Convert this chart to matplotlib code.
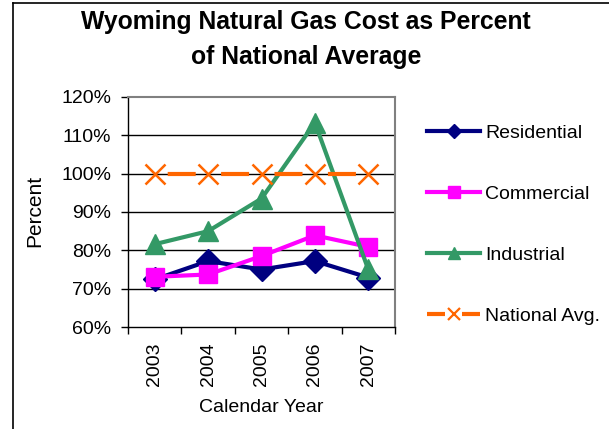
import matplotlib
matplotlib.use("Agg")
import matplotlib.pyplot as plt
from matplotlib.lines import Line2D
import numpy as np

plt.rcParams['font.family'] = ['Liberation Sans', 'DejaVu Sans']
plt.rcParams['lines.scale_dashes'] = False

years = ["2003", "2004", "2005", "2006", "2007"]
residential = [72.4, 77.2, 75.0, 77.2, 72.9]
commercial = [73.1, 73.7, 78.5, 83.9, 80.9]
industrial = [81.6, 85.0, 93.5, 113.3, 75.0]
national = [100, 100, 100, 100, 100]
yticks = [60, 70, 80, 90, 100, 110, 120]

W, H = 609, 429
fig = plt.figure(figsize=(W / 100, H / 100), dpi=100)
px2pt = 72 / 100

# outer frame lines (left and top)
fig.add_artist(Line2D([12.5 / W, 12.5 / W], [0, 1 - 3 / H], color='black', lw=1.2, transform=fig.transFigure))
fig.add_artist(Line2D([12.5 / W, 1], [1 - 3 / H, 1 - 3 / H], color='black', lw=1.2, transform=fig.transFigure))

left, right, top, bottom = 128, 395, 97, 327
ax = fig.add_axes([left / W, 1 - bottom / H, (right - left) / W, (bottom - top) / H])

x = np.arange(len(years))
ax.set_xlim(-0.5, len(years) - 0.5)
ax.set_ylim(60, 120)

for yv in yticks[1:-1]:
    ax.axhline(yv, color='black', lw=1, zorder=1)

ax.plot(x, residential, color='#000080', lw=3, marker='D', ms=12, label='Residential', zorder=3)
ax.plot(x, commercial, color='#FF00FF', lw=3, marker='s', ms=13.5, label='Commercial', zorder=3)
ax.plot(x, industrial, color='#339966', lw=3, marker='^', ms=14.5, label='Industrial', zorder=3)

period = (right - left) / 5
on = 28
off = period - on
ax.plot(x, national, color='#FF6600', lw=3, marker='x', ms=14, mew=1.8,
        linestyle=((on + off / 2) * px2pt, (on * px2pt, off * px2pt)),
        label='National Avg.', zorder=4)

fs = 14
ax.set_yticks(yticks)
ax.set_yticklabels([f"{v}%" for v in yticks], fontsize=fs)
ax.set_xticks(x)
ax.set_xticklabels(years, rotation=90, fontsize=fs)
ax.tick_params(axis='x', which='major', length=0, pad=11)
ax.set_xticks(np.arange(-0.5, len(years)), minor=True)
ax.tick_params(axis='x', which='minor', length=5, direction='out', width=1)
ax.tick_params(axis='y', length=5, direction='out', width=1, pad=7)

for s in ['left', 'bottom']:
    ax.spines[s].set_color('black')
    ax.spines[s].set_linewidth(1)
for s in ['top', 'right']:
    ax.spines[s].set_color('#808080')
    ax.spines[s].set_linewidth(1.5)

fig.text(35 / W, 1 - 211 / H, "Percent", rotation=90, fontsize=15, ha='center', va='center')
fig.text(261 / W, 1 - 408 / H, "Calendar Year", fontsize=fs, ha='center', va='center')
fig.text(306 / W, 1 - 22 / H, "Wyoming Natural Gas Cost as Percent", fontsize=17.8,
         fontweight='bold', ha='center', va='center')
fig.text(306 / W, 1 - 57 / H, "of National Average", fontsize=17.8,
         fontweight='bold', ha='center', va='center')

# legend
handles = [
    Line2D([], [], color='#000080', lw=3, marker='D', ms=7.5),
    Line2D([], [], color='#FF00FF', lw=3, marker='s', ms=8),
    Line2D([], [], color='#339966', lw=3, marker='^', ms=9),
    Line2D([], [], color='#FF6600', lw=3, marker='x', ms=8, mew=1.6,
           linestyle=(0, (18 * px2pt, 17 * px2pt))),
]
labels = ['Residential', 'Commercial', 'Industrial', 'National Avg.']
fig.legend(handles, labels, loc='upper left', bbox_to_anchor=(427 / W, 1 - 124 / H),
           frameon=False, fontsize=fs, handlelength=53 * px2pt / fs, handletextpad=5 * px2pt / fs,
           labelspacing=(63 - fs / px2pt) * px2pt / fs, borderpad=0, borderaxespad=0)

fig.savefig("out.png", dpi=100)
